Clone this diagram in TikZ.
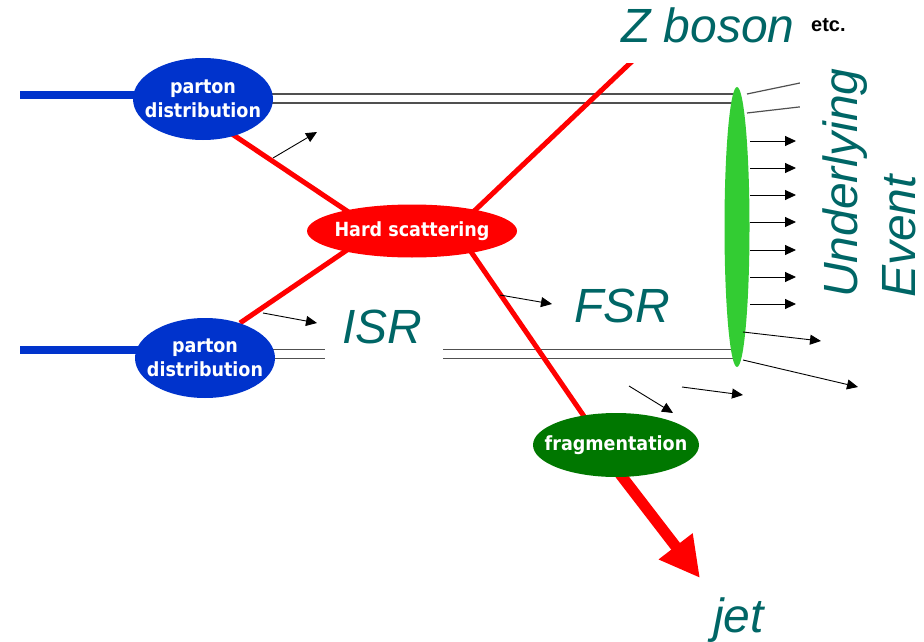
\documentclass[tikz,border=0pt]{standalone}
\usepackage{fontspec}
\newfontfamily\arialf{Liberation Sans}
\newfontfamily\ellf{DejaVu Sans Condensed}
\usetikzlibrary{shapes.geometric,arrows.meta,calc}
\definecolor{pblue}{RGB}{0,51,204}
\definecolor{hred}{RGB}{255,0,0}
\definecolor{fgreen}{RGB}{0,119,0}
\definecolor{ugreen}{RGB}{51,204,51}
\definecolor{tealtxt}{RGB}{0,102,102}
\definecolor{dline}{RGB}{80,80,80}
\pgfdeclarelayer{paper}
\pgfdeclarelayer{under}
\pgfsetlayers{paper,under,main}
\begin{document}
\begin{tikzpicture}[x=1pt,y=-1pt,
  blob/.style={ellipse, inner xsep=-40pt, inner ysep=-30pt, text=white, font=\ellf\bfseries\fontsize{19.5}{24}\selectfont, align=center},
  redline/.style={hred, line width=5pt},
  smallarrow/.style={black, line width=0.9pt, -{Triangle[length=11pt,width=10pt]}},
  grayline/.style={dline, line width=1.2pt},
  dbl/.style={draw=dline, double=white, double distance=7.5pt, line width=1.4pt},
  bigtxt/.style={text=tealtxt, font=\arialf\itshape\fontsize{48}{58}\selectfont, inner sep=0pt},
]
\useasboundingbox (0,0) rectangle (924,642);
\begin{pgfonlayer}{paper}
\fill[white] (0,0) rectangle (924,642);
\end{pgfonlayer}

% nodes
\node[blob, fill=pblue, minimum width=140pt, minimum height=82pt] (pdt) at (203,99) {parton\\distribution};
\node[blob, fill=pblue, minimum width=140pt, minimum height=80pt] (pdb) at (205,358) {parton\\distribution};
\node[blob, fill=hred, minimum width=210pt, minimum height=53pt] (hs) at (412,231) {Hard scattering};
\node[blob, fill=fgreen, minimum width=166pt, minimum height=64pt] (fr) at (616,445) {fragmentation};
\node[ellipse, fill=ugreen, inner sep=0pt, minimum width=25pt, minimum height=280pt] (ue) at (737,227) {};

\coordinate (bt) at (20,95);
\coordinate (bb) at (20,350);
\coordinate (zend) at (645,49);
\coordinate (jtip) at (700,578);

\begin{pgfonlayer}{under}
% beams
\draw[pblue, line width=8pt] (bt) -- (bt -| pdt.center);
\draw[pblue, line width=8pt] (bb) -- (bb -| pdb.center);
\draw[dbl] ($(pdt.center)+(0,-0.5)$) -- ($(pdt.center -| ue.center)+(0,-0.5)$);
\draw[dbl] ($(pdb.center)+(0,-4)$) -- ($(pdb.center -| ue.center)+(0,-4)$);
% red lines
\draw[redline] (226,130) -- (350,213);
\draw[redline] (240,323) -- (350,248);
\draw[redline] (470,215) -- (zend);
\draw[redline] (465,243) -- (590,425);
\draw[hred, line width=11pt, -{Triangle[length=40pt,width=40pt]}] (620,474) -- (jtip);
% lines leaving the underlying event
\draw[grayline] (747,94) -- (812,80.5);
\draw[grayline] (747,113) -- (812,105.5);
% white text boxes
\fill[white] (598,0) rectangle (800,63);
\fill[white] (800,63) rectangle (924,320);
\fill[white] (325,287) rectangle (443,366);
\end{pgfonlayer}

% small arrows
\draw[smallarrow] (273,158) -- (317,132);
\draw[smallarrow] (263,313) -- (317,323);
\draw[smallarrow] (500,295) -- (552,304);
\draw[smallarrow] (629,386) -- (673,413);
\draw[smallarrow] (682,387) -- (743,395);
\foreach \yy in {141,168,195,222,250,277,304}
  \draw[smallarrow] (750,\yy) -- (796,\yy);
\draw[smallarrow] (743,332) -- (821,341);
\draw[smallarrow] (743,360) -- (858,387);

% labels
\node[bigtxt, anchor=base west] (zb) at (621,43) {Z boson};
\node[font=\arialf\bfseries\fontsize{20}{24}\selectfont, inner sep=0pt, anchor=base west] (etc) at (811,32) {etc.};
\node[bigtxt, anchor=base west, rotate=90] (und) at (857,298) {Underlying};
\node[bigtxt, anchor=base west, rotate=90] (evt) at (915,298) {Event};
\node[bigtxt, anchor=base west] (isr) at (342,343) {ISR};
\node[bigtxt, anchor=base west] (fsr) at (574,322) {FSR};
\node[bigtxt, anchor=base west] (jet) at (713,632) {jet};
\end{tikzpicture}
\end{document}
